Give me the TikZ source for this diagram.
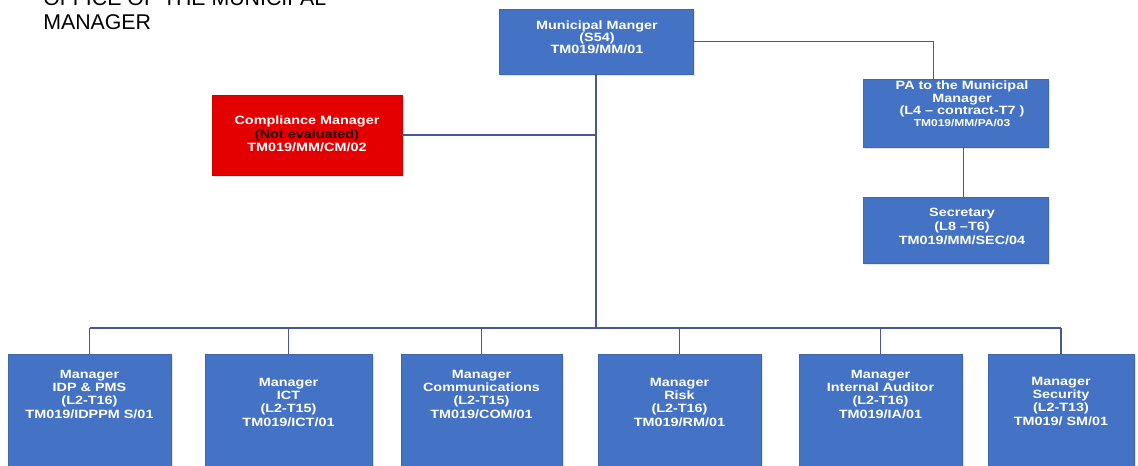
\documentclass[tikz,border=0pt]{standalone}
\usepackage{fontspec}
\setmainfont{Liberation Sans}
\newfontfamily\boxfont[FakeStretch=1.2]{Liberation Sans}
\usepackage{tikz}
\usetikzlibrary{positioning, calc, shadows}

\definecolor{unitblue}{RGB}{68,114,196}
\definecolor{unitred}{RGB}{228,0,0}
\definecolor{linkblue}{RGB}{70,88,150}

\begin{document}
\begin{tikzpicture}[x=0.75pt, y=-0.75pt,
	unit/.style={draw=unitblue!90!black, fill=unitblue, inner sep=0pt,
		drop shadow={opacity=0.2, shadow xshift=1.2pt, shadow yshift=-1.2pt}},
	caption/.style={text=white, align=center, inner sep=0pt,
		font=\boxfont\bfseries\fontsize{9}{10}\selectfont},
	link/.style={draw=linkblue, line width=0.8pt}]
\useasboundingbox (0,0) rectangle (1138,466);

% title, first line is cut by the page edge
\node[anchor=south west, inner sep=0pt, align=left, font=\fontsize{16}{18}\selectfont] (title) at (43,30) {OFFICE OF THE MUNICIPAL\\MANAGER};

% top of the chart
\node[unit, minimum width=194*0.75pt, minimum height=65*0.75pt] (mm) at (596,41.5) {};
\node[caption, font=\boxfont\bfseries\fontsize{9}{9}\selectfont] (mm txt) at (597,37.5) {Municipal Manger\\(S54)\\TM019/MM/01};

\node[unit, fill=unitred, draw=unitred!90!black, minimum width=190*0.75pt, minimum height=80*0.75pt] (cm) at (307,135) {};
\node[caption] (cm txt) at (307,134) {Compliance Manager\\\textcolor{black!85!red}{(Not evaluated)}\\TM019/MM/CM/02};

\node[unit, minimum width=185*0.75pt, minimum height=68*0.75pt] (pa) at (955.5,113) {};
\node[caption, font=\boxfont\bfseries\fontsize{9}{9.3}\selectfont] (pa txt) at (962,104) {PA to the Municipal\\Manager\\(L4 – contract-T7 )\\{\fontsize{7.5}{9}\selectfont TM019/MM/PA/03}};

\node[unit, minimum width=185*0.75pt, minimum height=66*0.75pt] (sec) at (955.5,230) {};
\node[caption, font=\boxfont\bfseries\fontsize{9}{10.5}\selectfont] (sec txt) at (962,226) {Secretary\\(L8 –T6)\\TM019/MM/SEC/04};

% managers, the boxes run past the lower page edge
\foreach \x/\w/\s/\n/\t in {
	89.5/163/394/idp/{Manager\\IDP \& PMS\\(L2-T16)\\TM019/IDPPM S/01},
	288.5/167/402/ict/{Manager\\ICT\\(L2-T15)\\TM019/ICT/01},
	481.5/161/394/com/{Manager\\Communications\\(L2-T15)\\TM019/COM/01},
	679.5/163/402/rm/{Manager\\Risk\\(L2-T16)\\TM019/RM/01},
	880.5/163/394/ia/{Manager\\Internal Auditor\\(L2-T16)\\TM019/IA/01},
	1061/146/401/sm/{Manager\\Security\\(L2-T13)\\TM019/ SM/01}} {
	\node[unit, anchor=north, minimum width=\w*0.75pt, minimum height=130*0.75pt] (\n) at (\x,354) {};
	\node[caption] (\n txt) at (\x,\s) {\t};
}

% connectors
\coordinate (bus) at (0,328);
\draw[link] (mm.south) -- (mm.south |- bus);
\draw[link] (idp.north |- bus) -- (sm.north |- bus);
\foreach \n in {idp, ict, com, rm, ia, sm}
	\draw[link] (\n.north) -- (\n.north |- bus);
\draw[link] (cm.east) -- (cm.east -| mm.south);
\draw[link] (mm.east) -| ($(pa.north)+(-22,0)$);
\draw[link] ($(pa.south)+(8,0)$) -- ($(sec.north)+(8,0)$);
\end{tikzpicture}
\end{document}
